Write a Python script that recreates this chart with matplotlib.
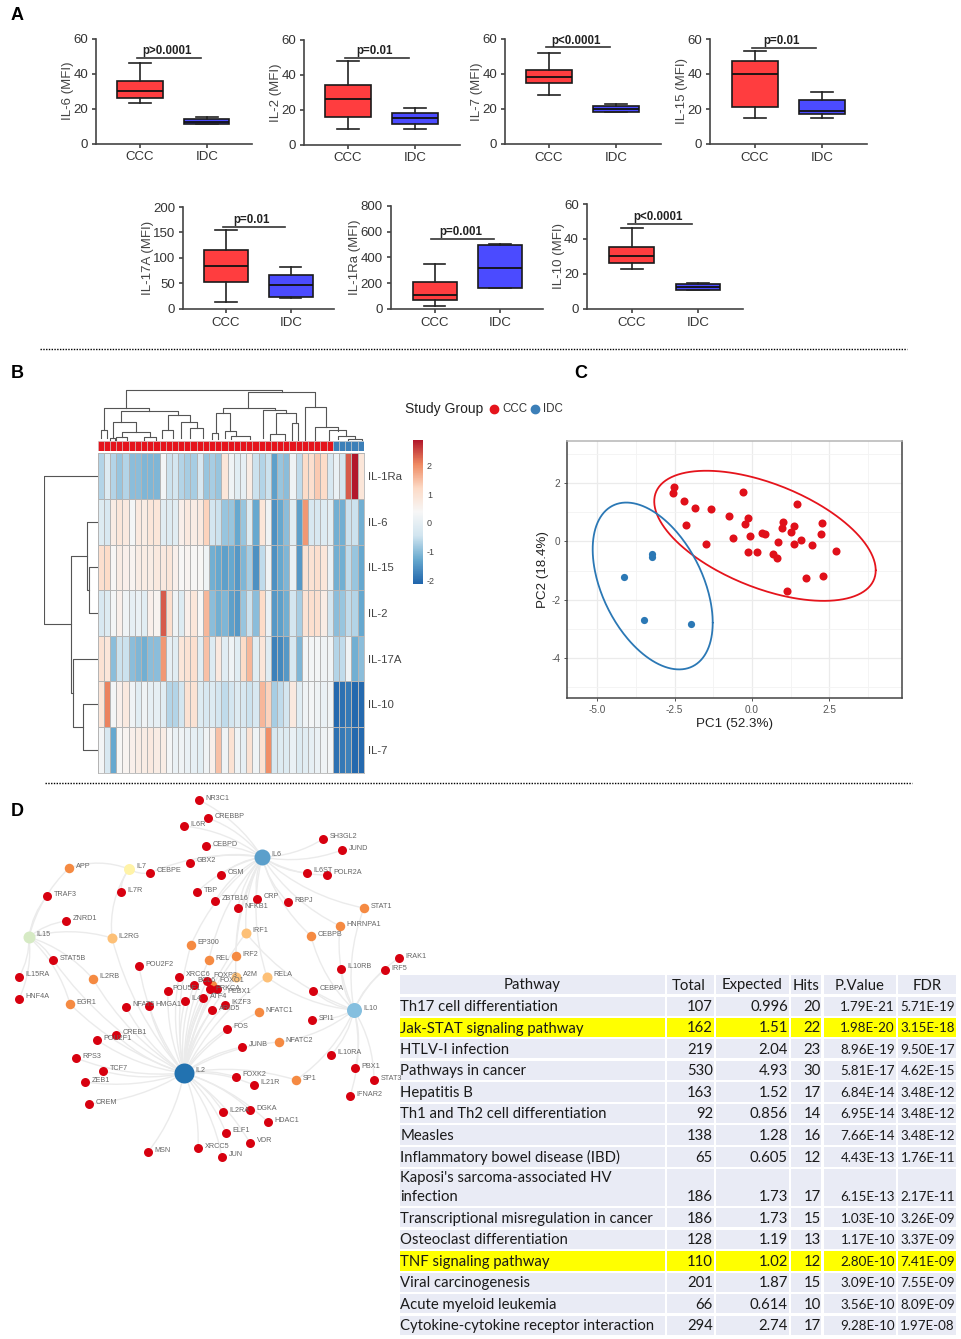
import numpy as np
import matplotlib
matplotlib.use("Agg")
from matplotlib import pyplot as plt
from matplotlib.colors import LinearSegmentedColormap, Normalize
from matplotlib.patches import FancyArrowPatch, Rectangle

plt.rcParams['font.family'] = ['Liberation Sans', 'DejaVu Sans']
plt.rcParams['axes.unicode_minus'] = False

W, H = 961, 1339

# ---- panel A: box plots (whisker low, q1, median, q3, whisker high)
cytokines = ["IL-6", "IL-2", "IL-7", "IL-15", "IL-17A", "IL-1Ra", "IL-10"]
ccc_boxes = [[23, 26, 30, 35.5, 46], [9, 16, 26, 34, 48], [28, 35, 38, 42, 52], [15, 21, 40, 47.5, 53],
             [13, 53, 84, 116, 155], [20, 70, 110, 210, 345], [23, 26, 30, 35.5, 46]]
idc_boxes = [[11, 11, 12.5, 14, 15], [9, 12, 15, 18, 21], [18, 18.5, 20, 21.5, 23], [15, 17, 19, 25, 29.5],
             [22, 23, 47, 66, 82], [160, 160, 320, 500, 505], [11, 11, 12.5, 14, 15]]
y_max = [60, 60, 60, 60, 200, 800, 60]
y_steps = [20, 20, 20, 20, 50, 200, 20]
p_texts = ["p>0.0001", "p=0.01", "p<0.0001", "p=0.01", "p=0.01", "p=0.001", "p<0.0001"]
p_levels = [48.9, 49.8, 55, 55, 161, 545, 48.4]

# pixel boxes of the axes: left, top, right, bottom, and x of the CCC / IDC boxes
box_rects = [(96, 38.5, 252, 143.5, 140, 206.7), (304, 40, 460, 144.5, 348, 415),
             (505, 38.7, 661, 144, 549, 616), (710, 39, 867, 144, 755, 822),
             (183, 207, 334, 308.7, 226, 290.7), (390.7, 206, 543, 308.7, 434.7, 500),
             (586.7, 204, 742.7, 308.7, 631.7, 698)]

# ---- panel B: heat map
study_group = ["CCC"] * 38 + ["IDC"] * 5
heat_rows = ["IL-1Ra", "IL-6", "IL-15", "IL-2", "IL-17A", "IL-10", "IL-7"]
il1ra = [-0.7, -0.2, -0.7, -0.9, -0.7, -1.0, -1.0, -1.1, -1.1, -1.1, 0.3, -0.5, -0.4, -0.7, -0.8, -0.8, -0.3, -0.9, -0.8, -0.9,
         0.9, 0.2, -0.1, 0.0, 0.7, -0.5, -0.7, -0.5, -1.4, -0.9, -1.0, 0.2, -0.6, 1.2, 1.1, 1.4, 1.2, -0.3, 0.1, -0.4, 2.4, 2.9, 0.9]
il6 = [-0.2, -0.3, 0.7, 0.9, 0.8, 0.3, 0.8, 0.7, 0.9, 0.9, -0.1, -0.2, -0.1, 0.6, 0.8, 0.7, 0.8, 1.3, -0.4, -0.5,
       -0.9, -0.9, -1.3, -0.9, -0.2, -1.3, 0.9, 0.2, -1.6, -1.3, -1.0, -0.1, -1.4, 1.9, -0.3, -0.3, -0.2, -0.1, -1.2, -1.2, -0.5, -0.5, -1.2]
il15 = [1.1, 1.2, 0.4, 0.7, 0.6, 0.5, 0.7, 0.7, 0.7, 0.8, 0.8, 0.9, 0.6, 0.4, 0.5, 0.4, 0.4, 0.2, -1.2, -1.3,
        -1.4, -1.3, -1.5, -1.1, -0.8, -1.6, -0.6, 0.2, -1.6, -1.3, -1.1, 0.1, -1.5, 1.0, 1.0, 1.1, 0.9, 0.1, -1.2, -1.2, -0.6, -0.9, -1.3]
il2 = [-0.3, -0.2, 0.3, 0.6, 0.2, 0.0, 0.1, -0.1, 0.6, 0.5, 2.4, 1.1, 0.2, -0.2, 0.6, 0.9, 0.4, 1.6, -1.0, -1.2,
       -1.1, -1.4, -1.5, -0.9, -0.5, -1.0, 1.2, 0.1, -1.5, -1.4, -1.2, -0.4, -0.8, 1.0, 1.1, 1.1, 0.7, -0.4, -1.0, -0.9, -0.6, -0.7, -1.3]
il17a = [1.0, 0.9, -1.0, -0.5, -0.5, -1.0, -1.1, -1.2, -1.0, -1.0, 1.9, 0.0, -0.1, 0.9, 1.0, 1.1, -0.1, 1.5, -0.2, 0.8,
         -0.1, 0.2, -0.1, 1.2, 1.6, -0.1, 0.9, -0.1, -1.8, -1.7, -1.5, -0.3, -1.1, 0.3, 0.3, 0.3, 0.2, 0.2, -0.7, -0.6, 0.2, -1.2, -1.0]
il10 = [0.9, 2.1, 0.3, 0.6, 0.8, 0.2, -0.1, 0.2, 0.0, 0.0, -0.1, -0.7, -0.7, -0.4, 1.0, 1.0, -0.2, -0.3, -0.2, -0.4,
        -0.6, -0.4, -0.2, -0.3, -0.5, -0.3, 1.6, 1.3, -0.8, -0.6, -0.4, 0.8, -0.1, 0.2, 0.3, 0.2, 0.1, 0.2, -2.1, -2.0, -1.9, -2.1, -2.1]
il7 = [0.3, -0.3, -1.3, 0.4, 0.5, 0.6, 0.7, 0.7, 0.8, 0.7, 0.7, 0.3, 0.1, 0.2, 0.1, 0.0, -0.1, 0.2, 0.6, 1.5,
       0.2, 1.0, 0.2, 0.0, 1.0, 0.2, 1.0, 2.0, -0.3, -0.2, -0.2, 0.1, -0.2, -0.1, 0.0, 0.1, 0.2, 0.3, -2.0, -1.9, -1.8, -2.1, -2.1]

# dendrogram merges: position a, position b, height a, height b, merge height
col_tree = [(4.6, 29.8, 33, 49, 51), (24.3, 35.2, 33, 34, 49), (1.0, 8.3, 11, 30, 33), (0.5, 1.5, 3, 3, 11),
            (3.8, 13.0, 19, 26, 30), (2.4, 6.2, 3, 9, 19), (3.9, 8.5, 4, 4, 9), (3.0, 4.8, 1, 1, 4), (7.5, 9.5, 1, 1, 4),
            (2.0, 2.8, 0, 0, 3), (11.3, 14.9, 11, 19, 26), (10.4, 12.1, 3, 3, 11), (13.4, 16.0, 3, 13, 19),
            (14.9, 17.1, 3, 3, 13), (20.3, 28.6, 28, 31, 33), (19.1, 21.4, 8, 10, 28), (18.4, 19.5, 2, 2, 8),
            (20.5, 22.3, 3, 5, 10), (21.6, 24.6, 2, 2, 5), (26.8, 30.5, 3, 28, 31), (28.9, 32.1, 8, 18, 28),
            (27.9, 30.3, 1, 1, 7), (31.4, 32.4, 0, 0, 18), (33.5, 36.9, 1, 14, 34), (35.2, 38.9, 1, 10, 14),
            (37.4, 40.2, 1, 5, 11), (38.9, 41.6, 2, 3, 5), (40.5, 42.8, 1, 1, 2)]
row_tree = [(2, 3, 0, 0, 9), (1, 2.5, 0, 9, 11), (5, 6, 0, 0, 15), (4, 5.5, 0, 15, 25),
            (1.75, 4.75, 11, 25, 26.3), (0, 3.25, 0, 26.3, 53.7)]

# ---- panel C: PCA scores
ccc_pc1 = [-2.51, -2.55, -2.21, -1.84, -1.34, -2.13, -1.50, -0.74, -0.29, -0.61, -0.12, -0.22, -0.05, -0.13, 0.17, 0.33, 0.42,
           0.68, 0.82, 0.84, 1.00, 0.96, 1.26, 1.36, 1.45, 1.37, 1.58, 1.12, 1.75, 1.95, 2.31, 2.24, 2.27, 2.70]
ccc_pc2 = [1.85, 1.65, 1.37, 1.15, 1.12, 0.55, -0.09, 0.88, 1.68, 0.11, 0.80, 0.61, 0.19, -0.37, -0.37, 0.27, 0.25,
           -0.42, -0.56, -0.01, 0.67, 0.47, 0.32, 0.53, 1.29, -0.10, 0.05, -1.71, -1.27, -0.11, -1.18, 0.25, 0.64, -0.32]
idc_pc1 = [-3.24, -3.23, -4.14, -3.48, -1.96]
idc_pc2 = [-0.42, -0.53, -1.21, -2.70, -2.82]
# ellipse: centre x, centre y, half width, half height, correlation
ccc_ellipse = [0.42, 0.19, 3.58, 2.23, -0.53]
idc_ellipse = [-3.21, -1.53, 1.94, 2.86, -0.44]

# ---- panel D: network
hub_names = ["IL2", "IL6", "IL10", "IL15", "IL7"]
hub_x = [184, 262, 354, 29, 129]
hub_y = [1073, 857, 1010, 937, 869]
hub_size = [20, 16, 15, 12, 11]
hub_colors = ["#2272b0", "#5b9fcb", "#85bfdf", "#d6eac4", "#fff3a8"]

red_nodes = {"NR3C1": (199, 800), "CREBBP": (208, 818), "IL6R": (184, 826), "CEBPD": (206, 846), "GBX2": (190, 863),
             "OSM": (221, 875), "TBP": (197, 892), "ZBTB16": (215, 901), "NFKB1": (238, 908), "CRP": (257, 899),
             "RBPJ": (288, 902), "IL6ST": (307, 873), "POLR2A": (327, 875), "SH3GL2": (323, 839), "JUND": (342, 850),
             "CEBPE": (150, 873), "IL7R": (121, 892), "TRAF3": (47, 896), "ZNRD1": (66, 921), "STAT5B": (53, 960),
             "IL15RA": (19, 977), "HNF4A": (19, 999), "POU2F2": (139, 966), "XRCC6": (179, 977), "NFAT5": (126, 1007),
             "HMGA1": (149, 1006), "POU5F1": (168, 991), "CREB1": (116, 1035), "POU2F1": (97, 1040), "RPS3": (76, 1058),
             "TCF7": (103, 1071), "ZEB1": (85, 1082), "CREM": (89, 1104), "MSN": (148, 1152), "XRCC5": (198, 1148),
             "JUN": (222, 1157), "ELF1": (226, 1133), "VDR": (250, 1143), "HDAC1": (268, 1122), "DGKA": (250, 1110),
             "IL2RA": (223, 1112), "IL21R": (254, 1085), "FOXK2": (236, 1077), "JUNB": (242, 1047), "FOS": (227, 1029),
             "IL10RB": (341, 969), "IRF5": (385, 970), "IRAK1": (399, 958), "CEBPA": (313, 991), "SPI1": (312, 1020),
             "IL10RA": (331, 1055), "PBX1": (355, 1068), "STAT3": (374, 1080), "IFNAR2": (350, 1096),
             "FOXP3": (207, 981), "BCL6": (194, 985), "PRKCA": (210, 989), "PEBX1": (217, 989), "IL4": (185, 1001),
             "ATF4": (203, 998), "ARID5": (212, 1010), "IKZF3": (225, 1005)}
orange_nodes = {"APP": (69, 868), "EP300": (191, 945), "REL": (209, 960), "IRF2": (236, 956), "IL2RB": (93, 979),
                "EGR1": (70, 1004), "CEBPB": (311, 936), "HNRNPA1": (340, 926), "STAT1": (364, 908),
                "NFATC1": (259, 1012), "NFATC2": (279, 1042), "SP1": (296, 1080), "FOXO1": (212, 985)}
pale_nodes = {"IL2RG": (112, 938), "IRF1": (246, 933), "RELA": (267, 977), "A2M": (236, 977)}
# labels of the crowded knot sit a little off their usual place
label_nudge = {"FOXP3": (0, -3.5), "FOXO1": (1, -2), "PRKCA": (-1, 1.2), "PEBX1": (4, 4.5), "BCL6": (-3, -3), "POU5F1": (-2, 0)}

il6_links = ["NR3C1", "CREBBP", "IL6R", "CEBPD", "GBX2", "OSM", "TBP", "ZBTB16", "NFKB1", "CRP", "RBPJ", "IL6ST", "POLR2A",
             "SH3GL2", "JUND", "STAT1", "HNRNPA1", "CEBPB", "IRF1", "EP300", "IRF2", "REL", "A2M", "RELA", "CEBPE"]
il10_links = ["IL10RB", "IRF5", "IRAK1", "CEBPA", "SPI1", "IL10RA", "PBX1", "STAT3", "IFNAR2", "SP1", "STAT1", "HNRNPA1",
              "CEBPB", "RELA", "IRF1", "NFATC2"]
il15_links = ["TRAF3", "ZNRD1", "APP", "IL2RG", "STAT5B", "IL15RA", "HNF4A", "IL2RB", "EGR1"]
il7_links = ["APP", "IL7R", "CEBPE", "IL2RG"]
il2_links = ["POU2F2", "XRCC6", "NFAT5", "HMGA1", "POU5F1", "CREB1", "POU2F1", "RPS3", "TCF7", "ZEB1", "CREM", "MSN", "XRCC5",
             "JUN", "ELF1", "VDR", "HDAC1", "DGKA", "IL2RA", "IL21R", "FOXK2", "JUNB", "FOS", "FOXP3", "BCL6", "PRKCA", "PEBX1",
             "IL4", "ATF4", "ARID5", "IKZF3", "NFATC1", "NFATC2", "SP1", "IL2RG", "IL2RB", "EGR1", "STAT5B", "EP300", "IRF1",
             "IRF2", "REL", "A2M", "RELA", "FOXO1"]

# ---- panel D: pathway table
table_header = ["Pathway", "Total", "Expected", "Hits", "P.Value", "FDR"]
pathways = ["Th17 cell differentiation", "Jak-STAT signaling pathway", "HTLV-I infection", "Pathways in cancer", "Hepatitis B",
            "Th1 and Th2 cell differentiation", "Measles", "Inflammatory bowel disease (IBD)",
            "Kaposi's sarcoma-associated HV\ninfection", "Transcriptional misregulation in cancer", "Osteoclast differentiation",
            "TNF signaling pathway", "Viral carcinogenesis", "Acute myeloid leukemia", "Cytokine-cytokine receptor interaction"]
totals = ["107", "162", "219", "530", "163", "92", "138", "65", "186", "186", "128", "110", "201", "66", "294"]
expected = ["0.996", "1.51", "2.04", "4.93", "1.52", "0.856", "1.28", "0.605", "1.73", "1.73", "1.19", "1.02", "1.87", "0.614", "2.74"]
hits = ["20", "22", "23", "30", "17", "14", "16", "12", "17", "15", "13", "12", "15", "10", "17"]
p_values = ["1.79E-21", "1.98E-20", "8.96E-19", "5.81E-17", "6.84E-14", "6.95E-14", "7.66E-14", "4.43E-13", "6.15E-13",
            "1.03E-10", "1.17E-10", "2.80E-10", "3.09E-10", "3.56E-10", "9.28E-10"]
fdr = ["5.71E-19", "3.15E-18", "9.50E-17", "4.62E-15", "3.48E-12", "3.48E-12", "3.48E-12", "1.76E-11", "2.17E-11",
       "3.26E-09", "3.37E-09", "7.41E-09", "7.55E-09", "8.09E-09", "1.97E-08"]
highlighted = ["Jak-STAT signaling pathway", "TNF signaling pathway"]


fig = plt.figure(figsize=(W / 100, H / 100), dpi=100, facecolor="white")


def px_axes(left, top, right, bottom, **kw):
    return fig.add_axes([left / W, 1 - bottom / H, (right - left) / W, (bottom - top) / H], **kw)


# full page axes in pixels, for the network, the table and the separators
page = px_axes(0, 0, W, H)
page.set_xlim(0, W)
page.set_ylim(H, 0)
page.axis("off")

for name, (x, y) in zip("ABCD", [(11, 16), (11, 374), (574, 374), (11, 812)]):
    page.text(x, y, name, fontsize=13, fontweight="bold", ha="left", va="center", color="black")
page.plot([40, 907], [348.5, 348.5], color="black", lw=1, ls=(0, (1, 1)))
page.plot([45, 912], [783, 783], color="black", lw=1, ls=(0, (1, 1)))

# ---------------------------- A
for i, name in enumerate(cytokines):
    left, top, right, bottom, x_ccc, x_idc = box_rects[i]
    ax = px_axes(left, top, right, bottom, facecolor="none")
    step = x_idc - x_ccc
    stats = []
    for b in (ccc_boxes[i], idc_boxes[i]):
        stats.append(dict(whislo=b[0], q1=b[1], med=b[2], q3=b[3], whishi=b[4], fliers=[]))
    parts = ax.bxp(stats, positions=[1, 2], widths=0.675, capwidths=0.33, patch_artist=True, showfliers=False,
                   boxprops=dict(lw=1.2, edgecolor="#1a1a1a"), medianprops=dict(color="#111111", lw=1.3),
                   whiskerprops=dict(color="#222222", lw=1.2), capprops=dict(color="#222222", lw=1.2))
    parts["boxes"][0].set_facecolor("#ff3d3f")
    parts["boxes"][1].set_facecolor("#4b4bff")
    ax.set_xlim(1 + (left - x_ccc) / step, 1 + (right - x_ccc) / step)
    ax.set_ylim(0, y_max[i])
    ax.set_xticks([1, 2], ["CCC", "IDC"])
    ax.set_yticks(np.arange(0, y_max[i] + 1, y_steps[i]))
    ax.tick_params(labelsize=9.5, labelcolor="#333333", color="#333333", width=1.1, length=3.2, pad=2.5)
    ax.set_ylabel(name + " (MFI)", fontsize=9.5, color="#444444", labelpad=-0.5)
    ax.spines[["top", "right"]].set_visible(False)
    ax.spines[["left", "bottom"]].set_color("#444444")
    ax.spines[["left", "bottom"]].set_linewidth(1.2)
    ax.plot([0.95, 1.91], [p_levels[i], p_levels[i]], color="#333333", lw=1.2, clip_on=False)
    ax.annotate(p_texts[i], (1.4, p_levels[i]), xytext=(0, 0.6), textcoords="offset points", ha="center", va="bottom",
                fontsize=8.3, fontweight="bold", color="#222222", annotation_clip=False)

# ---------------------------- B
heat_cmap = LinearSegmentedColormap.from_list(
    "heat", ["#2166AC", "#67A9CF", "#D1E5F0", "#F7F7F7", "#FDDBC7", "#EF8A62", "#B2182B"])
heat_norm = Normalize(-2.14, 2.9)
heat = np.array([il1ra, il6, il15, il2, il17a, il10, il7])
ax = px_axes(97.7, 453.3, 363.7, 772.7)
ax.pcolormesh(heat, cmap=heat_cmap, norm=heat_norm, edgecolors="#b4b4b4", linewidth=0.55)
ax.set_ylim(len(heat_rows), 0)
ax.set_xticks([])
ax.yaxis.tick_right()
ax.set_yticks(np.arange(len(heat_rows)) + 0.5, heat_rows)
ax.tick_params(axis="y", length=0, labelsize=8.2, labelcolor="#444444", pad=3)
for s in ax.spines.values():
    s.set_color("#b4b4b4")
    s.set_linewidth(0.6)

# group annotation strip
ax = px_axes(97.7, 441.3, 363.7, 451)
group_colors = ["#e5141c" if g == "CCC" else "#3c7fb8" for g in study_group]
ax.bar(np.arange(len(study_group)) + 0.5, 1, width=1, color=group_colors, edgecolor="#c8c8c8", linewidth=0.4)
ax.set_xlim(0, len(study_group))
ax.set_ylim(0, 1)
ax.axis("off")

# column dendrogram
ax = px_axes(97.7, 389.3, 363.7, 441.3)
for a, b, ha, hb, top_h in col_tree:
    ax.plot([a, a, b, b], [ha, top_h, top_h, hb], color="#555555", lw=0.8)
ax.set_xlim(0, len(study_group))
ax.set_ylim(0, 52)
ax.axis("off")

# row dendrogram
ax = px_axes(43.7, 453.3, 97.7, 772.7)
for a, b, ha, hb, top_h in row_tree:
    ax.plot([ha, top_h, top_h, hb], [a + 0.5, a + 0.5, b + 0.5, b + 0.5], color="#555555", lw=0.8)
ax.set_xlim(54, 0)
ax.set_ylim(len(heat_rows), 0)
ax.axis("off")

# colour bar
ax = px_axes(412.7, 440, 422.7, 584)
ax.imshow(np.linspace(2.9, -2.14, 200).reshape(-1, 1), cmap=heat_cmap, norm=heat_norm, aspect="auto", extent=[0, 1, -2.14, 2.9])
ax.set_xticks([])
ax.yaxis.tick_right()
ax.set_yticks([-2, -1, 0, 1, 2])
ax.tick_params(axis="y", length=0, labelsize=6.5, labelcolor="#444444", pad=3)
for s in ax.spines.values():
    s.set_visible(False)

page.text(405, 409, "Study Group", fontsize=10, color="#222222", va="center")
page.plot([494], [409], "o", color="#e5141c", ms=6)
page.text(502, 409, "CCC", fontsize=8.3, color="#333333", va="center")
page.plot([535], [409], "o", color="#3c7fb8", ms=6)
page.text(543, 409, "IDC", fontsize=8.3, color="#333333", va="center")

# ---------------------------- C
ax = px_axes(566.7, 441, 901.7, 698.3)
ax.set_xlim(-5.99, 4.84)
ax.set_ylim(-5.38, 3.44)
ax.set_axisbelow(True)
ax.set_xticks([-5, -2.5, 0, 2.5], ["-5.0", "-2.5", "0.0", "2.5"])
ax.set_yticks([-4, -2, 0, 2])
ax.set_xticks([-3.75, -1.25, 1.25, 3.75], minor=True)
ax.set_yticks([-5, -3, -1, 1, 3], minor=True)
ax.grid(which="major", color="#ebebeb", lw=0.9)
ax.grid(which="minor", color="#f3f3f3", lw=0.6)
ax.tick_params(which="minor", length=0)
ax.tick_params(which="major", labelsize=7.2, labelcolor="#555555", color="#555555", length=2, width=0.7, pad=2.5)
for s in ax.spines.values():
    s.set_color("#444444")
    s.set_linewidth(1.1)
ax.spines["top"].set_color("#b5b5b5")
t = np.linspace(0, 2 * np.pi, 240)
for (cx, cy, sx, sy, rho), color in zip([ccc_ellipse, idc_ellipse], ["#e5141c", "#2b78b5"]):
    ax.plot(cx + sx * np.cos(t), cy + sy * np.cos(t + np.arccos(rho)), color=color, lw=1.3, solid_capstyle="round")
ax.plot(ccc_pc1, ccc_pc2, "o", color="#e0101a", ms=5.8, mew=0)
ax.plot(idc_pc1, idc_pc2, "o", color="#2b78b5", ms=5.2, mew=0)
ax.set_xlabel("PC1 (52.3%)", fontsize=9.6, color="#222222", labelpad=2.5)
ax.set_ylabel("PC2 (18.4%)", fontsize=9.6, color="#222222", labelpad=1.5)

# ---------------------------- D network
all_nodes = {}
all_nodes.update(red_nodes)
all_nodes.update(orange_nodes)
all_nodes.update(pale_nodes)
link_sets = [il2_links, il6_links, il10_links, il15_links, il7_links]
bends = [-0.12, 0.14, -0.14, -0.14, 0.18]
for hub, links, bend, hx, hy in zip(hub_names, link_sets, bends, hub_x, hub_y):
    for name in links:
        page.add_patch(FancyArrowPatch((hx, hy), all_nodes[name], arrowstyle="-", color="#ebebeb", lw=1,
                                       connectionstyle="arc3,rad=%g" % bend, shrinkA=0, shrinkB=0, zorder=1))

for nodes, color, size in [(pale_nodes, "#fdc077", 10), (orange_nodes, "#f58a42", 9.5), (red_nodes, "#d7000f", 9)]:
    xs = [v[0] for v in nodes.values()]
    ys = [v[1] for v in nodes.values()]
    page.plot(xs, ys, "o", color=color, ms=size * 0.72, mew=0, zorder=3)
    for name, (x, y) in nodes.items():
        dx, dy = label_nudge.get(name, (0, 0))
        page.text(x + 6.5 + dx, y - 2 + dy, name, fontsize=5.2, color="#666666", va="center", zorder=4)
for name, x, y, size, color in zip(hub_names, hub_x, hub_y, hub_size, hub_colors):
    page.plot([x], [y], "o", color=color, ms=size * 0.72, mew=0, zorder=3)
    page.text(x + size / 2 + 1.5, y - 2, name, fontsize=5.2, color="#666666", va="center", zorder=4)

# ---------------------------- D table
col_edges = [(400.4, 665), (667, 714), (716, 789), (791, 821.4), (823.5, 896), (898, 956)]
header_centres = [532, 689, 752, 806, 860, 927.5]
right_edges = [713, 788, 821, 895, 955]
col_sizes = [10.7, 10.7, 10.7, 9.6, 9.6]
row_tops = [975, 996.7, 1017.7, 1039, 1060.7, 1082.3, 1103.7, 1125.3, 1147, 1169, 1208, 1229.7, 1251, 1272.7, 1294, 1315.7]
row_bottoms = [994, 1015.7, 1037.3, 1058.3, 1080, 1101.7, 1123, 1144.7, 1166.7, 1205.7, 1227.3, 1249, 1270.7, 1292, 1313.3, 1335]
table_font = dict(family=["Lato", "DejaVu Sans"], color="#1a1a1a", va="center", zorder=5)
for c, (x0, x1) in enumerate(col_edges):
    for r in range(len(pathways) + 1):
        fill = "#e9ebf5"
        if r > 0 and pathways[r - 1] in highlighted:
            fill = "#ffff00"
        page.add_patch(Rectangle((x0, row_tops[r]), x1 - x0, row_bottoms[r] - row_tops[r], facecolor=fill, edgecolor="none", zorder=1.5))
    page.text(header_centres[c], (row_tops[0] + row_bottoms[0]) / 2 + 1, table_header[c], ha="center", fontsize=10.7, **table_font)

columns = [totals, expected, hits, p_values, fdr]
for r, name in enumerate(pathways):
    top_y = row_tops[r + 1]
    low_y = row_bottoms[r + 1]
    if "\n" in name:
        first, second = name.split("\n")
        page.text(400.5, top_y + 9, first, ha="left", fontsize=10.7, **table_font)
        page.text(400.5, low_y - 9, second, ha="left", fontsize=10.7, **table_font)
        y_val = low_y - 9
    else:
        y_val = (top_y + low_y) / 2 + 1
        page.text(400.5, y_val, name, ha="left", fontsize=10.7, **table_font)
    for col, right, size in zip(columns, right_edges, col_sizes):
        page.text(right, y_val, col[r], ha="right", fontsize=size, **table_font)

fig.savefig("out.png", dpi=100)
